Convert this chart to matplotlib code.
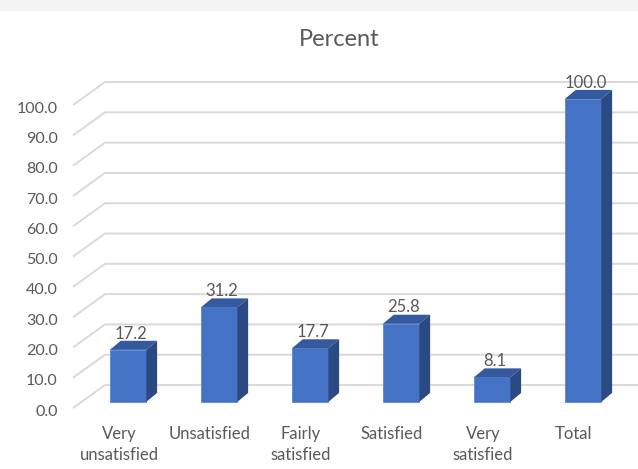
import matplotlib.pyplot as plt
from matplotlib.patches import Polygon, Rectangle

# survey results
categories = ["Very\nunsatisfied", "Unsatisfied", "Fairly\nsatisfied",
              "Satisfied", "Very\nsatisfied", "Total"]
percent = [17.2, 31.2, 17.7, 25.8, 8.1, 100.0]
ticks = [0, 10, 20, 30, 40, 50, 60, 70, 80, 90, 100]

# pseudo-3d geometry (category units / value units)
bar_w = 0.40
depth_x = 0.12
depth_y = 3.0
wall_x0, wall_y0 = -0.604, -2.0    # front end of the floor diagonals
wall_x1, wall_y1 = -0.253, 5.6     # back wall corner

front = "#4472c4"
top = "#34599f"
side = "#2b4a84"
grid = "#d9d9d9"
txt = "#595959"

plt.rcParams["font.family"] = ["Lato", "DejaVu Sans"]

fig = plt.figure(figsize=(6.38, 4.69), dpi=100)
ax = fig.add_axes([0, 0, 1, 1])
ax.set_xlim(-128 / 91, (638 - 128) / 91)
ax.set_ylim((402 - 469) / 3.03, 402 / 3.03)
ax.axis("off")

# faint background band along the top edge
fig.patches.append(Rectangle((0, 1 - 10 / 469), 1, 10 / 469,
                             transform=fig.transFigure, color="#f4f4f4", zorder=0))

# gridlines: back wall lines plus floor diagonals
for t in ticks:
    ax.plot([wall_x0, wall_x1, 6.0], [t + wall_y0, t + wall_y1, t + wall_y1],
            color=grid, lw=1.4, zorder=1, solid_capstyle="butt")
    ax.text(-0.77, t - 3.2, f"{t:.1f}", ha="right", va="center",
            fontsize=11.5, color=txt)

# bars: front faces from ax.bar, then top and side faces
xs = list(range(len(percent)))
bars = ax.bar(xs, percent, width=bar_w, color=front, edgecolor="#5a86d2",
              linewidth=0.6, zorder=3)
for x, v in zip(xs, percent):
    l, r = x - bar_w / 2, x + bar_w / 2
    ax.add_patch(Polygon([(l, v), (r, v), (r + depth_x, v + depth_y),
                          (l + depth_x, v + depth_y)], closed=True,
                         facecolor=top, edgecolor="none", zorder=3))
    ax.add_patch(Polygon([(r, 0), (r + depth_x, depth_y),
                          (r + depth_x, v + depth_y), (r, v)], closed=True,
                         facecolor=side, edgecolor="none", zorder=3))
    ax.text(x + 0.03, v + 5.4, f"{v:.1f}", ha="center", va="center",
            fontsize=12, color=txt, zorder=4)

for x, c in zip(xs, categories):
    ax.text(x - 0.1, -7.8, c, ha="center", va="top", fontsize=12,
            color=txt, linespacing=1.4)

fig.text(339 / 638, 1 - 40 / 469, "Percent", ha="center", va="center",
         fontsize=17, color=txt)

fig.savefig("out.png", dpi=100)
